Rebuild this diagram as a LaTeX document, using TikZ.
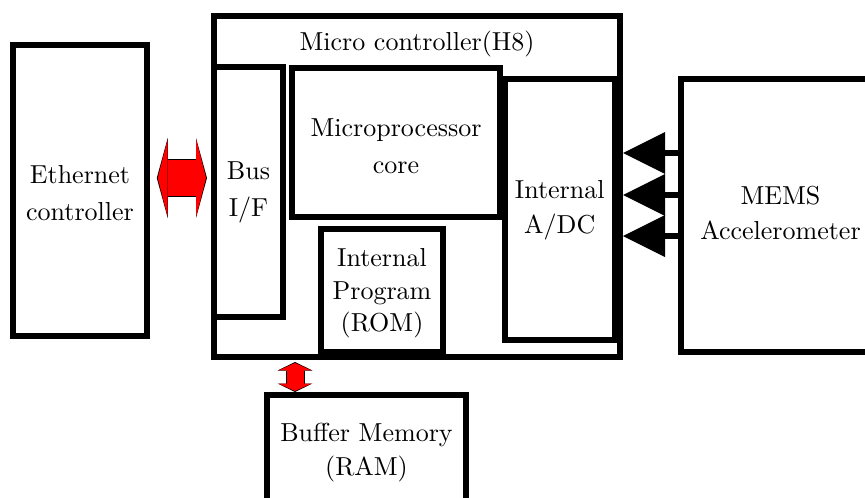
\documentclass[tikz,border=0pt]{standalone}
\usepackage{fontspec}
\setmainfont{lmroman10}[Extension=.otf, UprightFont=*-regular, BoldFont=*-bold,
  ItalicFont=*-italic, BoldItalicFont=*-bolditalic]
\usepackage{tikz}
\usetikzlibrary{arrows.meta}
\definecolor{linkred}{HTML}{FF0000}
\tikzset{
  blockbox/.style={draw, line width=6pt, inner sep=0pt},
  blocktext/.style={inner sep=0pt, align=center, font=\fontsize{26}{#1}\selectfont},
  blocktext/.default=37,
  linkarrow/.style n args={3}{line width=#1,
    {Triangle[width=#2,length=#3,line width=0pt]}-{Triangle[width=#2,length=#3,line width=0pt]}},
  adcarrow/.style={line width=6pt, -{Triangle[width=42pt,length=42pt,line width=0pt]}}
}

\begin{document}
\begin{tikzpicture}[x=1pt,y=-1pt]
  \useasboundingbox (0,0) rectangle (865,498);
  \node[blockbox, minimum width=406pt, minimum height=341pt] (mc) at (417,186.5) {};
  \node[blockbox, minimum width=69pt, minimum height=250.5pt] (bus) at (248.5,191.75) {};
  \node[blockbox, minimum width=208pt, minimum height=149pt] (cpu) at (396,142.5) {};
  \node[blockbox, minimum width=110.5pt, minimum height=261pt] (adc) at (559.75,209.5) {};
  \node[blockbox, minimum width=122pt, minimum height=123pt] (rom) at (382,290.5) {};
  \node[blockbox, minimum width=134.5pt, minimum height=291pt] (eth) at (80,190.5) {};
  \node[blockbox, minimum width=199pt, minimum height=273pt] (mems) at (780.5,215.5) {};
  \node[blockbox, minimum width=199pt, minimum height=115pt] (buf) at (366.5,452.5) {};

  \node[blocktext, anchor=base] (mctext) at ([yshift=-37pt]mc.north) {Micro controller(H8)};
  \node[blocktext] (bustext) at ([yshift=-1pt]bus.center) {Bus\\I/F};
  \node[blocktext] (cputext) at ([yshift=-3.5pt]cpu.center) {Microprocessor\\core};
  \node[blocktext=35] (adctext) at ([yshift=-0.5pt]adc.center) {Internal\\A/DC};
  \node[blocktext=32.5] (romtext) at ([yshift=-3pt]rom.center) {Internal\\Program\\(ROM)};
  \node[blocktext=37.5] (ethtext) at ([yshift=-2.5pt]eth.center) {Ethernet\\controller};
  \node[blocktext=35] (memstext) at ([yshift=3pt]mems.center) {MEMS\\Accelerometer};
  \node[blocktext=34] (buftext) at (buf.center) {Buffer Memory\\(RAM)};

  \draw[linkarrow={38pt}{80pt}{11pt}, shorten <=6.5pt, shorten >=4pt]
    (eth.east |- 0,178) -- (bus.west |- 0,178);
  \draw[linkarrow={36pt}{77pt}{9.8pt}, linkred, shorten <=7.5pt, shorten >=5pt]
    (eth.east |- 0,178) -- (bus.west |- 0,178);
  \draw[linkarrow={19pt}{35pt}{8.5pt}, shorten <=2pt]
    (mc.south -| 295,0) -- (buf.north -| 295,0);
  \draw[linkarrow={17pt}{32.5pt}{7.3pt}, linkred, shorten <=3pt, shorten >=1pt]
    (mc.south -| 295,0) -- (buf.north -| 295,0);

  \foreach \y in {153,195,236}
    \draw[adcarrow] (mems.west |- 0,\y) -- (mc.east |- 0,\y);
\end{tikzpicture}
\end{document}
